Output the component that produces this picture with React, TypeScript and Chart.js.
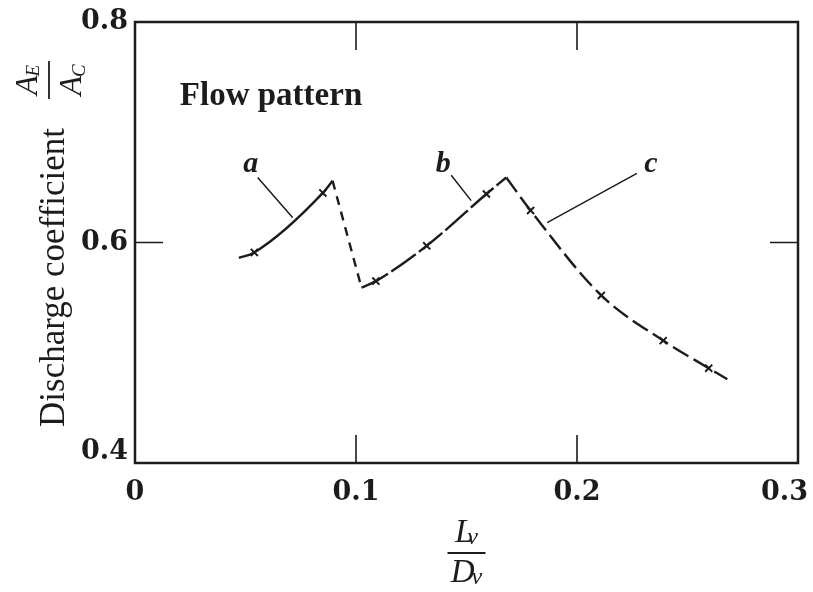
import React, { useEffect, useRef } from "react";
import { Chart, registerables } from "chart.js";

Chart.register(...registerables);

// Axis ranges and tick values
const X_MIN = 0;
const X_MAX = 0.3;
const Y_MIN = 0.4;
const Y_MAX = 0.8;
const X_TICKS = [0, 0.1, 0.2, 0.3];
const Y_TICKS = [0.4, 0.6, 0.8];
const INNER_X_TICKS = [0.1, 0.2];
const INNER_Y_TICKS = [0.6];

// Flow pattern a: rising branch up to the first peak
const A_X = [0.047, 0.054, 0.085, 0.0894];
const A_Y = [0.586, 0.591, 0.645, 0.656];
const A_MARK = [false, true, true, false];

// Transition from pattern a to pattern b
const AB_X = [0.0894, 0.1025];
const AB_Y = [0.656, 0.559];

// Flow pattern b: rising branch up to the second peak
const B_X = [0.1025, 0.109, 0.132, 0.159, 0.168];
const B_Y = [0.559, 0.565, 0.597, 0.644, 0.659];
const B_MARK = [false, true, true, true, false];

// Flow pattern c: falling branch
const C_X = [0.168, 0.179, 0.211, 0.239, 0.2596, 0.268];
const C_Y = [0.659, 0.629, 0.552, 0.511, 0.486, 0.476];
const C_MARK = [false, true, true, true, true, false];

// Pattern labels and their leader lines (data units)
const LABELS = ["a", "b", "c"];
const LABEL_X = [0.0524, 0.1395, 0.2334];
const LABEL_Y = [0.6636, 0.6636, 0.6636];
const LEADER_FROM_X = [0.0555, 0.1431, 0.2271];
const LEADER_FROM_Y = [0.659, 0.661, 0.6627];
const LEADER_TO_X = [0.0713, 0.1521, 0.1865];
const LEADER_TO_Y = [0.6227, 0.638, 0.618];

const LEGEND_TITLE = "Flow pattern";
const LEGEND_X = 0.0203;
const LEGEND_Y = 0.7245;

const Y_TITLE = "Discharge coefficient";

const INK = "#1c1c1c";
const SERIF = '"Liberation Serif", "Times New Roman", serif';
const TICK_FONT = '"DejaVu Serif", serif';

const W = 813;
const H = 592;

const pts = (xs: number[], ys: number[]) => xs.map((x, i) => ({ x, y: ys[i] }));

function drawSubscripted(
  ctx: CanvasRenderingContext2D,
  main: string,
  sub: string,
  cx: number,
  baseline: number,
  mainSize: number,
  subSize: number,
  subDrop: number,
  overlap: number
) {
  ctx.font = `italic ${mainSize}px ${SERIF}`;
  const mw = ctx.measureText(main).width;
  ctx.font = `italic ${subSize}px ${SERIF}`;
  const sw = ctx.measureText(sub).width;
  const total = mw + sw - overlap;
  const left = cx - total / 2;
  ctx.textAlign = "left";
  ctx.textBaseline = "alphabetic";
  ctx.font = `italic ${mainSize}px ${SERIF}`;
  ctx.fillText(main, left, baseline);
  ctx.font = `italic ${subSize}px ${SERIF}`;
  ctx.fillText(sub, left + mw - overlap, baseline + subDrop);
}

const decorations = {
  id: "decorations",
  afterDraw(chart: any) {
    const { ctx, chartArea: ca, scales } = chart;
    const xs = scales.x;
    const ys = scales.y;
    ctx.save();
    ctx.fillStyle = INK;
    ctx.strokeStyle = INK;

    // frame
    ctx.lineWidth = 2.5;
    ctx.strokeRect(ca.left, ca.top, ca.right - ca.left, ca.bottom - ca.top);

    // inward tick marks
    ctx.lineWidth = 1.6;
    ctx.beginPath();
    INNER_X_TICKS.forEach((v) => {
      const px = xs.getPixelForValue(v);
      ctx.moveTo(px, ca.bottom);
      ctx.lineTo(px, ca.bottom - 28);
      ctx.moveTo(px, ca.top);
      ctx.lineTo(px, ca.top + 28);
    });
    INNER_Y_TICKS.forEach((v) => {
      const py = ys.getPixelForValue(v);
      ctx.moveTo(ca.left, py);
      ctx.lineTo(ca.left + 28, py);
      ctx.moveTo(ca.right, py);
      ctx.lineTo(ca.right - 28, py);
    });
    ctx.stroke();

    // leader lines
    ctx.lineWidth = 1.5;
    ctx.beginPath();
    LEADER_FROM_X.forEach((fx, i) => {
      ctx.moveTo(xs.getPixelForValue(fx), ys.getPixelForValue(LEADER_FROM_Y[i]));
      ctx.lineTo(xs.getPixelForValue(LEADER_TO_X[i]), ys.getPixelForValue(LEADER_TO_Y[i]));
    });
    ctx.stroke();

    // pattern letters
    ctx.font = `italic bold 30px ${SERIF}`;
    ctx.textAlign = "center";
    ctx.textBaseline = "alphabetic";
    LABELS.forEach((t, i) => {
      ctx.fillText(t, xs.getPixelForValue(LABEL_X[i]), ys.getPixelForValue(LABEL_Y[i]));
    });

    // "Flow pattern"
    ctx.font = `bold 33px ${SERIF}`;
    ctx.textAlign = "left";
    ctx.fillText(LEGEND_TITLE, xs.getPixelForValue(LEGEND_X), ys.getPixelForValue(LEGEND_Y));

    // y-axis title, rotated
    const midY = (ca.top + ca.bottom) / 2;
    ctx.save();
    ctx.translate(ca.left - 71, midY + 35);
    ctx.rotate(-Math.PI / 2);
    ctx.font = `35px ${SERIF}`;
    ctx.textAlign = "center";
    ctx.fillText(Y_TITLE, 0, 0);
    ctx.restore();

    // y-axis ratio A_E / A_C, rotated
    ctx.save();
    ctx.translate(0, ca.top + 58);
    ctx.rotate(-Math.PI / 2);
    drawSubscripted(ctx, "A", "E", 0, 37, 32, 19, 2, 1);
    ctx.lineWidth = 1.8;
    ctx.beginPath();
    ctx.moveTo(-19, 49);
    ctx.lineTo(19, 49);
    ctx.stroke();
    drawSubscripted(ctx, "A", "C", 0, 81, 32, 19, 4, 1);
    ctx.restore();

    // x-axis ratio L_v / D_v
    const midX = (ca.left + ca.right) / 2;
    drawSubscripted(ctx, "L", "v", midX, ca.bottom + 79, 33, 24, 2, 6);
    ctx.lineWidth = 1.8;
    ctx.beginPath();
    ctx.moveTo(midX - 19, ca.bottom + 90);
    ctx.lineTo(midX + 19, ca.bottom + 90);
    ctx.stroke();
    drawSubscripted(ctx, "D", "v", midX, ca.bottom + 119, 33, 24, 2, 3);

    ctx.restore();
  },
};

export default function App() {
  const ref = useRef<HTMLCanvasElement | null>(null);

  useEffect(() => {
    if (!ref.current) return;
    const markRadius = (marks: boolean[]) => (c: any) => (marks[c.dataIndex] ? 5 : 0);
    const lineBase = {
      borderColor: INK,
      backgroundColor: INK,
      borderWidth: 2.4,
      pointStyle: "crossRot" as const,
      pointBorderWidth: 2,
      pointBorderColor: INK,
      fill: false,
      cubicInterpolationMode: "monotone" as const,
    };
    const tickFont = { family: TICK_FONT, size: 27, weight: "bold" as const };
    const chart = new Chart(ref.current, {
      type: "line",
      data: {
        datasets: [
          {
            ...lineBase,
            label: "a",
            data: pts(A_X, A_Y),
            pointRadius: markRadius(A_MARK),
          },
          {
            ...lineBase,
            label: "a-b",
            data: pts(AB_X, AB_Y),
            pointRadius: 0,
            borderDash: [9, 7],
            tension: 0,
          },
          {
            ...lineBase,
            label: "b",
            data: pts(B_X, B_Y),
            pointRadius: markRadius(B_MARK),
            borderDash: [30, 4],
          },
          {
            ...lineBase,
            label: "c",
            data: pts(C_X, C_Y),
            pointRadius: markRadius(C_MARK),
            borderDash: [18, 6],
          },
        ],
      },
      options: {
        animation: false,
        responsive: false,
        events: [],
        layout: { padding: { top: 22, right: 15, left: 0, bottom: 0 } },
        plugins: {
          legend: { display: false },
          tooltip: { enabled: false },
        },
        scales: {
          x: {
            type: "linear",
            min: X_MIN,
            max: X_MAX,
            grid: { display: false, drawTicks: false },
            border: { display: false },
            afterBuildTicks: (s: any) => {
              s.ticks = X_TICKS.map((value) => ({ value }));
            },
            afterFit: (s: any) => {
              s.height = 129;
              s.paddingLeft = 0;
              s.paddingRight = 0;
            },
            ticks: {
              color: INK,
              padding: 14,
              maxRotation: 0,
              font: tickFont,
              // the last label sits just inside the right edge
              callback: (v: any) => {
                const s = String(Number(Number(v).toFixed(1)));
                return Number(v) >= X_MAX ? s + "\u2002\u2002" : s;
              },
            },
          },
          y: {
            type: "linear",
            min: Y_MIN,
            max: Y_MAX,
            grid: { display: false, drawTicks: false },
            border: { display: false },
            afterBuildTicks: (s: any) => {
              s.ticks = Y_TICKS.map((value) => ({ value }));
            },
            afterFit: (s: any) => {
              s.width = 135;
              s.paddingTop = 0;
              s.paddingBottom = 0;
            },
            ticks: {
              color: INK,
              padding: 7,
              // the lowest label is lifted clear of the x-axis "0"
              font: (c: any) =>
                c.tick && c.tick.value <= Y_MIN ? { ...tickFont, lineHeight: 0.8 } : tickFont,
              callback: (v: any) => (Number(v) <= Y_MIN ? [Number(v).toFixed(1), ""] : Number(v).toFixed(1)),
            },
          },
        },
      },
      plugins: [decorations],
    });
    return () => chart.destroy();
  }, []);

  return (
    <div style={{ position: "fixed", left: 0, top: 0, width: W, height: H, background: "#fff" }}>
      <canvas ref={ref} width={W} height={H} style={{ display: "block" }} />
    </div>
  );
}
